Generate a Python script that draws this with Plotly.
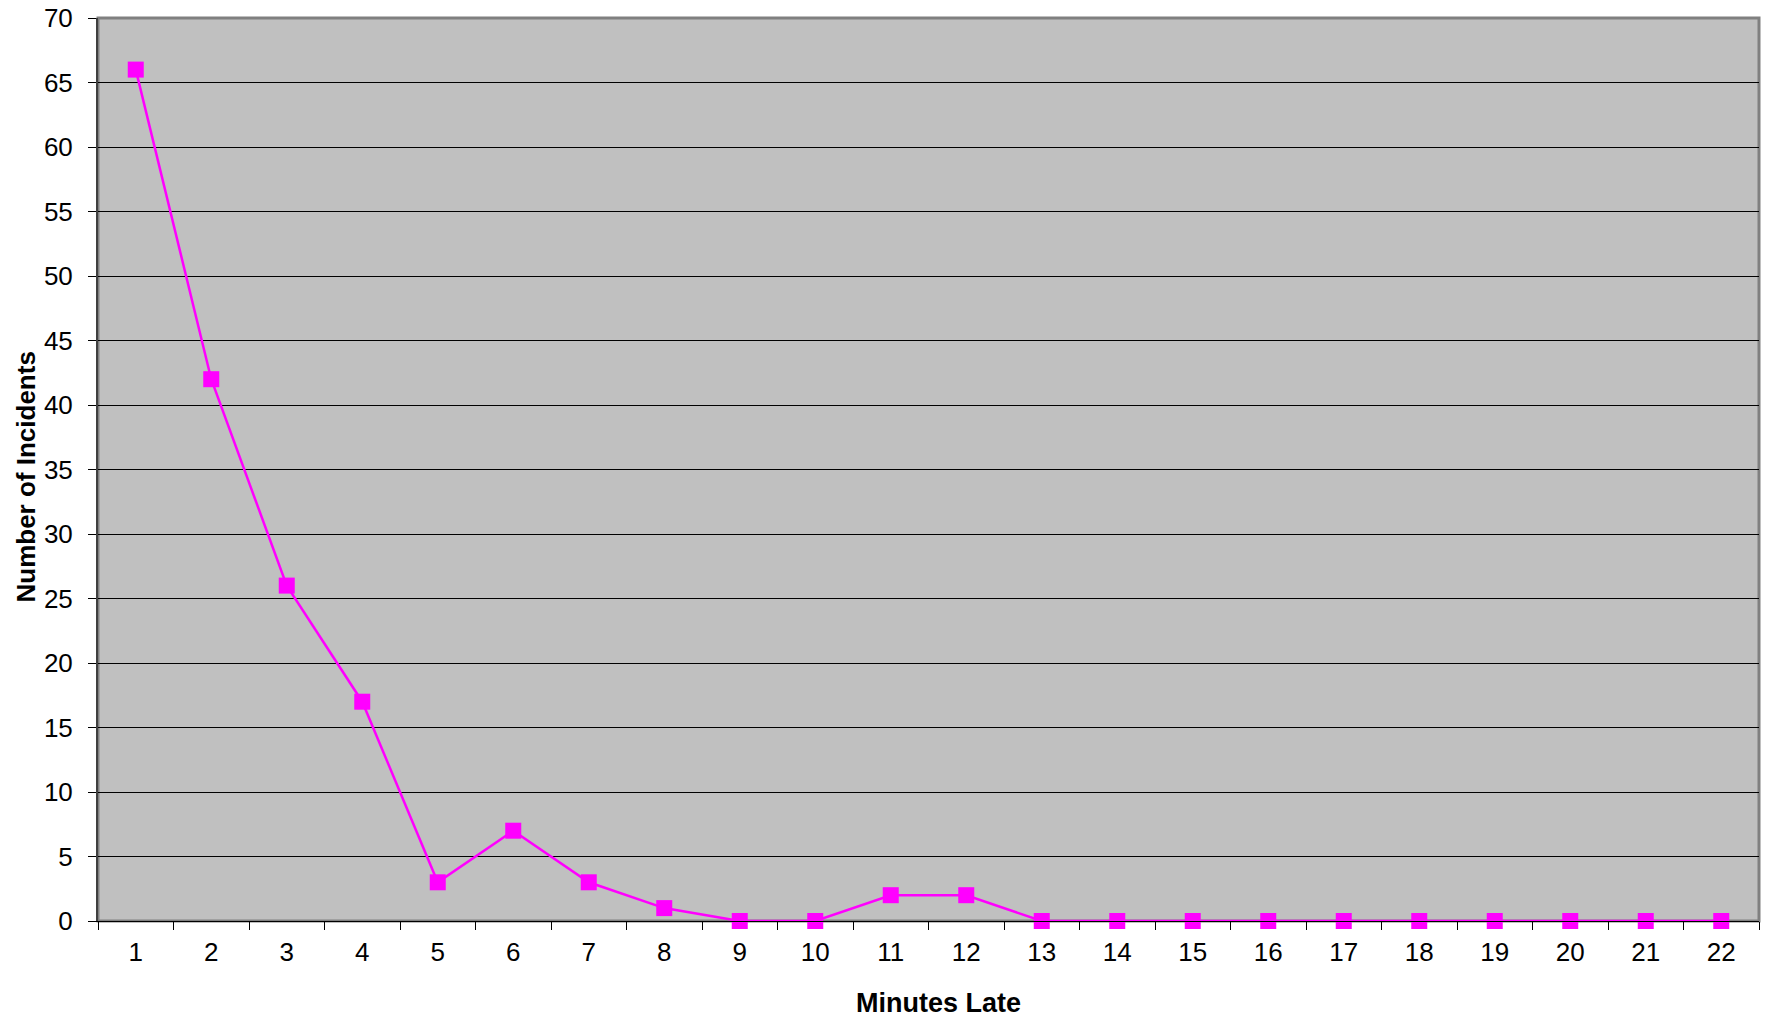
import plotly.graph_objects as go

minutes = [str(i) for i in range(1, 23)]
incidents = [66, 42, 26, 17, 3, 7, 3, 1, 0, 0, 2, 2, 0, 0, 0, 0, 0, 0, 0, 0, 0, 0]
y_ticks = list(range(0, 71, 5))

FONT = "Arial, Liberation Sans, sans-serif"

fig = go.Figure()
fig.add_trace(go.Scatter(
    x=minutes, y=incidents, mode="lines+markers",
    line=dict(color="#FF00FF", width=2.5),
    marker=dict(symbol="square", size=16, color="#FF00FF"),
    cliponaxis=False, showlegend=False,
))

fig.update_layout(
    width=1765, height=1021,
    margin=dict(l=98, r=6, t=18, b=100),
    paper_bgcolor="white", plot_bgcolor="#C0C0C0",
    font=dict(family=FONT, size=26, color="black"),
    shapes=[dict(type="rect", xref="paper", yref="paper", x0=0, x1=1, y0=0, y1=1,
                 line=dict(color="#808080", width=3), layer="below")],
    annotations=[
        dict(text="<b>Minutes Late</b>", xref="paper", yref="paper", x=0.5, y=0,
             xshift=10, yshift=-82, xanchor="center", yanchor="middle",
             showarrow=False, font=dict(size=27)),
        dict(text="<b>Number of Incidents</b>", xref="paper", yref="paper", x=0, y=0.5,
             xshift=-73, yshift=-8, xanchor="center", yanchor="middle", textangle=-90,
             showarrow=False, font=dict(size=26)),
    ],
)
fig.update_xaxes(
    type="category", range=[-0.5, 21.5], tickson="boundaries", ticks="outside", ticklen=8,
    tickcolor="black", tickwidth=1, showgrid=False, automargin=False,
    showline=True, linecolor="black", linewidth=1,
    tickfont=dict(size=26), ticklabelstandoff=8, ticklabeloverflow="allow",
)
fig.update_yaxes(
    range=[0, 70], tickvals=y_ticks, ticks="outside", ticklen=8,
    tickcolor="black", tickwidth=1, showgrid=True, gridcolor="black", gridwidth=1,
    zeroline=False, showline=True, linecolor="#404040", linewidth=2, automargin=False,
    tickfont=dict(size=26), ticklabelstandoff=10, ticklabeloverflow="allow",
)

fig.write_html("out.html", config={"displayModeBar": False},
               post_script="document.body.style.margin='0';")
